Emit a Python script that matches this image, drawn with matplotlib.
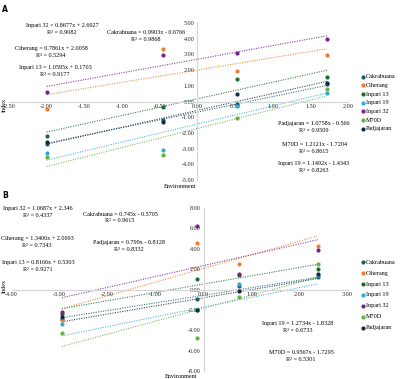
import matplotlib
matplotlib.use("Agg")
import matplotlib.pyplot as plt
import numpy as np

# series names in legend order
names = ["Cakrabuana", "Ciherang", "Inpari 13", "Inpari 19", "Inpari 32", "M70D", "Padjajaran"]
colors = ["#1f5b6b", "#ed7d31", "#1b6b32", "#35a9d6", "#7a1f8c", "#6aaf45", "#102a42"]

# panel A: environment index and genotype index values
env_a = [-2.00, -0.45, 0.52, 1.72]
idx_a = {
    "Cakrabuana": [-2.70, -1.17, -0.15, 1.10],
    "Ciherang": [-0.45, 3.35, 1.95, 2.95],
    "Inpari 13": [-2.19, -0.38, 1.42, 1.53],
    "Inpari 19": [-3.29, -3.12, -0.30, 0.57],
    "Inpari 32": [0.59, 2.93, 3.10, 3.98],
    "M70D": [-3.55, -3.40, -1.06, 0.79],
    "Padjajaran": [-2.60, -1.30, 0.49, 1.21],
}
slope_a = [0.9903, 0.7861, 1.0595, 1.1492, 0.8677, 1.2121, 1.0758]
icpt_a = [-0.6766, 2.0058, 0.1703, -1.4343, 2.6927, -1.7204, -0.566]
r2_a = [0.9868, 0.5294, 0.9177, 0.8263, 0.9082, 0.8615, 0.9509]

# panel B
env_b = [-2.95, -0.14, 0.74, 2.38]
idx_b = {
    "Cakrabuana": [-2.85, -0.98, 0.36, 1.24],
    "Ciherang": [-2.98, 4.56, 2.51, 4.23],
    "Inpari 13": [-2.45, 1.01, 1.40, 1.99],
    "Inpari 19": [-3.42, -2.00, 0.52, 1.40],
    "Inpari 32": [-2.18, 6.22, 1.56, 3.84],
    "M70D": [-4.23, -4.79, -0.72, 2.54],
    "Padjajaran": [-2.67, -2.02, -0.16, 1.50],
}
# printed equations (the two lowest lines carry each other's label on the chart)
eq_slope_b = [0.745, 1.3406, 0.8166, 1.2734, 1.0687, 0.9567, 0.799]
eq_icpt_b = [-0.5705, 2.0693, 0.5303, -1.8328, 2.346, -1.7295, -0.8128]
r2_b = [0.9615, 0.7343, 0.9271, 0.6733, 0.4337, 0.5301, 0.8332]
# which printed equation each coloured line follows
line_eq_b = [0, 1, 2, 5, 4, 3, 6]

W, H = 400, 379
FS = 4.4
plt.rcParams["font.family"] = ["Liberation Serif", "DejaVu Serif"]

fig = plt.figure(figsize=(4.0, 3.79), dpi=100)


def px(x, y):
    return x / W, 1 - y / H


def setup(ax, xlim, ylim, xticks, yticks):
    ax.set_xlim(*xlim)
    ax.set_ylim(*ylim)
    for s in ["top", "right"]:
        ax.spines[s].set_visible(False)
    for s in ["left", "bottom"]:
        ax.spines[s].set_position(("data", 0))
        ax.spines[s].set_color("#d6d6d6")
        ax.spines[s].set_linewidth(0.9)
    ax.set_xticks(xticks)
    ax.set_yticks(yticks)
    ax.set_xticklabels([f"{v:.2f}" for v in xticks])
    ax.set_yticklabels([f"{v:.2f}" for v in yticks])
    ax.tick_params(length=0, labelsize=FS, pad=2, colors="#222222")
    ax.patch.set_alpha(0)


def draw(ax, env, idx, slopes, icpts, eq_map):
    x0, x1 = min(env), max(env)
    xs = np.array([x0, x1])
    for i, n in enumerate(names):
        k = eq_map[i]
        ax.plot(xs, slopes[k] * xs + icpts[k], color=colors[i], lw=0.8,
                ls=(0, (1, 1.2)), alpha=0.85, zorder=2)
    for i, n in enumerate(names):
        ax.scatter(env, idx[n], s=9, color=colors[i], label=n, zorder=3, linewidths=0)


def eq_text(name, m, b, r2, x, y, gap=6.8):
    sign = "+" if b >= 0 else "-"
    b_str = f"{abs(b):.4f}".rstrip("0")
    fig.text(*px(x, y), f"{name} = {m:g}x {sign} {b_str}", fontsize=FS,
             ha="center", va="center")
    fig.text(*px(x, y + gap), f"R² = {r2:.4f}", fontsize=FS,
             ha="center", va="center")


def legend(ax, x, y, spacing):
    ax.legend(loc="upper left", bbox_to_anchor=px(x, y), bbox_transform=fig.transFigure,
              frameon=False, fontsize=FS, handlelength=0.4, handletextpad=0.25,
              borderpad=0, borderaxespad=0, labelspacing=spacing, scatterpoints=1)


# ---- panel A
axA = fig.add_axes([9 / W, 1 - 180 / H, 339 / W, 157 / H])
setup(axA, (-2.5, 2.0), (-5, 5), np.arange(-2.5, 2.01, 0.5), np.arange(-5, 5.1, 1))
draw(axA, env_a, idx_a, slope_a, icpt_a, range(7))

pos_a = {
    "Inpari 32": (62, 26), "Cakrabuana": (146, 32.5), "Ciherang": (51, 48.5),
    "Inpari 13": (55, 68), "Padjajaran": (314, 123.5), "M70D": (314, 145),
    "Inpari 19": (314, 163.5),
}
for i, n in enumerate(names):
    eq_text(n, slope_a[i], icpt_a[i], r2_a[i], *pos_a[n])

legend(axA, 362, 74, 0.56)

fig.text(*px(5, 10), "A", fontsize=5.5, fontweight="bold", family="DejaVu Sans",
         ha="center", va="center")
fig.text(*px(4.5, 105), "Index", fontsize=FS, rotation=90, ha="center", va="center")
fig.text(*px(180, 186), "Environment", fontsize=FS, ha="center", va="center")

# ---- panel B
axB = fig.add_axes([11.5 / W, 1 - 371 / H, 336 / W, 163 / H])
setup(axB, (-4, 3), (-8, 8), np.arange(-4, 3.1, 1), np.arange(-8, 8.1, 2))
draw(axB, env_b, idx_b, eq_slope_b, eq_icpt_b, line_eq_b)

pos_b = {
    "Inpari 32": (38, 208.5), "Cakrabuana": (120, 214), "Ciherang": (37, 238.5),
    "Padjajaran": (129, 242.5), "Inpari 13": (38, 262.5), "Inpari 19": (298, 323.5),
    "M70D": (301, 352.5),
}
for i, n in enumerate(names):
    eq_text(n, eq_slope_b[i], eq_icpt_b[i], r2_b[i], *pos_b[n])

legend(axB, 362, 259.5, 0.92)

fig.text(*px(5, 195), "B", fontsize=5.5, fontweight="bold", family="DejaVu Sans",
         ha="center", va="center")
fig.text(*px(4.5, 286), "Index", fontsize=FS, rotation=90, ha="center", va="center")
fig.text(*px(181, 376), "Environment", fontsize=FS, ha="center", va="center")

fig.savefig("out.png", dpi=100)
